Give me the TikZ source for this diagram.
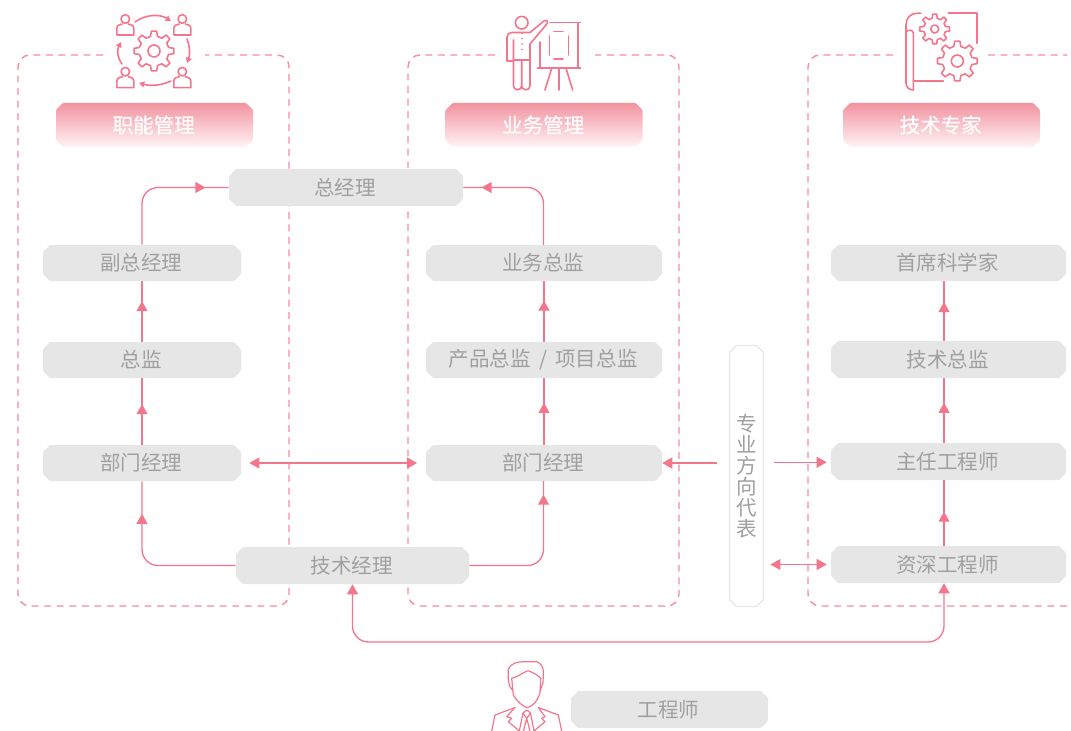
\documentclass[tikz,border=0pt]{standalone}
\usepackage{fontspec}
\setmainfont{Noto Sans CJK SC}
\usetikzlibrary{arrows.meta,decorations.markings,calc}
\definecolor{pinkline}{HTML}{F4768C}
\definecolor{pinkdash}{HTML}{F78CA0}
\definecolor{pinktop}{HTML}{F2939F}
\definecolor{pinkbot}{HTML}{FFF4F6}
\definecolor{boxgray}{HTML}{E6E6E6}
\definecolor{txtgray}{HTML}{A0A0A0}
\tikzset{
 textbase/.style={rectangle,inner sep=0pt,font=\fontsize{15.4}{18}\selectfont},
 grayshape/.style={fill=boxgray,rounded corners=0.7pt},
 graytext/.style={textbase,text=txtgray},
 headshape/.style={top color=pinktop,bottom color=pinkbot,rounded corners=0.7pt},
 headtext/.style={textbase,text=white,font=\fontsize{15.4}{18}\selectfont\addfontfeature{FakeBold=0.4}},
 repshape/.style={fill=white,draw=boxgray,line width=0.9pt,rounded corners=0.7pt},
 reptext/.style={textbase,text=txtgray,align=center,font=\fontsize{15.4}{15.8}\selectfont},
 frameline/.style={draw=pinkdash,line width=1.05pt,dash pattern=on 5.2pt off 4.2pt,rounded corners=9pt},
 conn/.style={draw=pinkline,line width=1pt,rounded corners=12pt},
 straightconn/.style={draw=pinkline,line width=1pt},
 tipped/.style={-{Triangle[length=7.5pt,width=8.2pt]}},
 bothtipped/.style={{Triangle[length=7.5pt,width=8.2pt]}-{Triangle[length=7.5pt,width=8.2pt]}},
 midtip/.style={postaction={decorate},decoration={markings,mark=at position #1 with {\arrow{Triangle[length=7.5pt,width=8.2pt]}}}},
 iconline/.style={draw=pinkline,line width=1.2pt,line cap=round,line join=round},
 iconthin/.style={draw=pinkline,line width=0.9pt,line cap=round,line join=round},
 smalltip/.style={-{Triangle[length=4pt,width=4.5pt]}},
}
% kind, name, cx, cy, w, h, text
\newcommand{\chamshape}[5]{%
 \path[#1shape] (#2-#4/2+7,#3-#5/2) -- (#2+#4/2-7,#3-#5/2) -- (#2+#4/2,#3-#5/2+7) -- (#2+#4/2,#3+#5/2-7) -- (#2+#4/2-7,#3+#5/2) -- (#2-#4/2+7,#3+#5/2) -- (#2-#4/2,#3+#5/2-7) -- (#2-#4/2,#3-#5/2+7) -- cycle;}
\newcommand{\chambox}[7]{%
 \chamshape{#1}{#3}{#4}{#5}{#6}%
 \node[#1text,minimum width=#5*0.75pt,minimum height=#6*0.75pt] (#2) at (#3,#4) {\raisebox{-0.7pt}{#7\hspace{1.2pt}}};}
\newcommand{\gearicon}[5]{%
 \pgfmathsetmacro{\gst}{360/#5}%
 \draw[iconline] ([shift={(#1,#2)}]{-0.30*\gst}:#4)
  \foreach \gi in {1,...,#5}{
   -- ([shift={(#1,#2)}]{\gi*\gst-1.30*\gst}:#4)
   -- ([shift={(#1,#2)}]{\gi*\gst-1.17*\gst}:#3)
   -- ([shift={(#1,#2)}]{\gi*\gst-0.83*\gst}:#3)
   -- ([shift={(#1,#2)}]{\gi*\gst-0.70*\gst}:#4)
  } -- cycle;}
\newcommand{\personicon}[2]{%
 \draw[iconline] (#1,#2) circle (4.3);
 \draw[iconline] (#1-3,#2+5) .. controls (#1-5,#2+5.5) and (#1-8.5,#2+6) .. (#1-8.5,#2+9.5) -- (#1-8.5,#2+16) -- (#1+8.5,#2+16) -- (#1+8.5,#2+9.5) .. controls (#1+8.5,#2+6) and (#1+5,#2+5.5) .. (#1+3,#2+5);}
\begin{document}
\begin{tikzpicture}[x=0.75pt,y=-0.75pt]
\useasboundingbox (0,0) rectangle (1071,731);
% frames
\draw[frameline] (103,55) -- (18,55) -- (18,606) -- (289,606) -- (289,55) -- (205,55);
\draw[frameline] (495,55) -- (408,55) -- (408,606) -- (679,606) -- (679,55) -- (595,55);
\draw[frameline] (893,55) -- (808,55) -- (808,606) -- (1067,606);
\draw[frameline,sharp corners] (988,55) -- (1066.6,55) -- (1067,55.15);
\coordinate (col3) at (944,0);
% headers
\chambox{head}{h1}{154.5}{125}{197}{44}{职能管理}
\chambox{head}{h2}{544}{125}{197}{44}{业务管理}
\chambox{head}{h3}{941.5}{125}{197}{44}{技术专家}
% boxes
\chambox{gray}{gm}{346}{187.5}{234}{37}{总经理}
\chambox{gray}{f1}{142}{263}{198}{36}{副总经理}
\chambox{gray}{f2}{142}{360}{198}{36}{总监}
\chambox{gray}{f3}{142}{463}{198}{36}{部门经理}
\chambox{gray}{tm}{352.5}{565.5}{233}{37}{技术经理}
\chambox{gray}{b1}{544}{263}{236}{36}{业务总监}
\chambox{gray}{b2}{544}{360}{236}{36}{产品总监\hspace{0.4em}/\hspace{0.4em}项目总监}
\chambox{gray}{b3}{544}{463}{236}{36}{部门经理}
\chambox{gray}{t1}{948.5}{263}{235}{36}{首席科学家}
\chambox{gray}{t2}{948.5}{359.5}{235}{37}{技术总监}
\chambox{gray}{t3}{948.5}{461.5}{235}{37}{主任工程师}
\chambox{gray}{t4}{948.5}{564.5}{235}{37}{资深工程师}
\chambox{gray}{eng}{669.5}{709.5}{197}{37}{工程师}
\chamshape{rep}{746.5}{476}{34}{261}
\node[reptext,minimum width=34*0.75pt,minimum height=261*0.75pt] (rep) at (746.5,476) {专\\业\\方\\向\\代\\表};
% connectors, first column
\draw[conn,midtip=0.61] (f3.north) -- (f2.south);
\draw[conn,midtip=0.67] (f2.north) -- (f1.south);
\draw[conn,midtip=0.81] (tm.west) -- (142,565.5) -- (f3.south);
\draw[conn,midtip=0.83] (f1.north) -- (142,187.5) -- (gm.west);
% second column
\draw[conn,midtip=0.63] (b3.north) -- (b2.south);
\draw[conn,midtip=0.68] (b2.north) -- (b1.south);
\draw[conn,midtip=0.91] (tm.east) -- (543.5,565.5) -- (543.5,481);
\draw[conn,midtip=0.86] (543.5,245) -- (543.5,187.5) -- (gm.east);
% third column
\draw[conn,midtip=0.52] (t4.north -| col3) -- (t3.south -| col3);
\draw[conn,midtip=0.62] (t3.north -| col3) -- (t2.south -| col3);
\draw[conn,midtip=0.65] (t2.north -| col3) -- (t1.south -| col3);
% cross links
\draw[straightconn,bothtipped,shorten <=6pt,shorten >=6.5pt] (f3.east) -- (b3.west);
\draw[straightconn,tipped,shorten <=9.5pt] (rep.west |- b3.east) -- (b3.east);
\draw[straightconn,tipped,shorten <=7.5pt,shorten >=3pt] ([yshift=-0.6pt]rep.east |- t3.west) -- ([yshift=-0.6pt]t3.west);
\draw[straightconn,bothtipped,shorten <=5pt,shorten >=3pt] (rep.east |- t4.west) -- (t4.west);
\draw[conn,bothtipped] (t4.south -| col3) -- (944,642) -- (352.5,642) -- (tm.south);
% icon 1
\gearicon{154}{51}{20}{15}{8}
\draw[iconline] (154,51) circle (6);
\personicon{125.3}{19}
\personicon{182.3}{19}
\personicon{125.3}{71.7}
\personicon{182.3}{71.7}
\draw[iconline,smalltip] (135,22) .. controls (146,14) and (160,14) .. (171,21);
\draw[iconline,smalltip] (187,39) .. controls (190,46) and (190,55) .. (187,63);
\draw[iconline,smalltip] (171,81) .. controls (160,86) and (150,86) .. (139,83);
\draw[iconline,smalltip] (122,64) .. controls (117,57) and (117,50) .. (121,42);
% icon 2
\draw[iconline] (521.7,22.7) circle (6.3);
\draw[iconline] (513.5,61) -- (507,61) -- (507,37) .. controls (507,34) and (509,32.5) .. (512,32.5) -- (530,32.5) -- (544,21) .. controls (547,19) and (549,22) .. (546,25) -- (530,44) -- (530,60)
  (513.5,40) -- (513.5,86) .. controls (513.5,91) and (521.5,91) .. (521.7,86) -- (521.7,60)
  (521.7,86) .. controls (522,91) and (530,91) .. (530,86) -- (530,60) (513.5,60) -- (530,60);
\draw[iconline,dash pattern=on 0.1pt off 4pt] (521.7,33) -- (521.7,54);
\draw[iconline] (550,22.7) -- (580.5,22.7) (578,22.7) -- (578,68.3) (537.5,68.3) -- (580.5,68.3) (540,68.3) -- (540,42);
\draw[iconline] (554,31.7) -- (563,31.7) (568.3,36) -- (568.3,55) (554,59.3) -- (563,59.3) (549.3,36) -- (549.3,55);
\draw[iconline] (551.7,68.3) -- (545,90) (559,68.3) -- (559,90) (566,68.3) -- (572.7,90);
% icon 3
\draw[iconline] (948.3,13.3) -- (976.7,13.3) -- (976.7,43.3);
\draw[iconline] (920.7,13.3) -- (918,13.3) .. controls (910,13.3) and (906,18) .. (906,25) -- (906,83) .. controls (906,87) and (909,90) .. (913.3,90) -- (913.3,33) .. controls (913.3,30) and (908,29) .. (906,32);
\draw[iconline] (913.3,81) -- (943.3,81);
\gearicon{934.7}{29}{15}{11}{8}
\draw[iconline] (934.7,29) circle (4);
\gearicon{957.3}{61}{20}{15}{8}
\draw[iconline] (957.3,61) circle (6);
% icon 4
\draw[iconthin] (512.7,690.7) .. controls (508,685) and (508,680) .. (508.3,670) .. controls (510,663) and (518,661.7) .. (524,661.7) -- (537,661.7) .. controls (542,664) and (544,668) .. (543.3,675) -- (543,683) -- (540,691);
\draw[iconthin] (511.7,678.3) .. controls (518,677) and (520,674) .. (528,670.7) .. controls (532,672) and (538,675) .. (540.7,678.3);
\draw[iconthin] (511.7,678.3) -- (513.3,695) .. controls (518,703) and (525,707.5) .. (527,707.5) .. controls (530,707.5) and (537,703) .. (540,693) -- (540.7,678.3);
\draw[iconthin] (491.7,731) -- (495,715) -- (515,707.5) (538.3,707.5) -- (558.3,715) -- (561.7,731);
\draw[iconthin] (515,707.5) -- (506.7,716.7) -- (511.7,718.3) -- (508.3,721.7) -- (519.3,731) -- (523,713) -- (527,710) -- (530.5,713) -- (534,731) -- (545,721.7) -- (541.7,718.3) -- (545,716.7) -- (538.3,707.5);
\draw[iconthin] (523,713) -- (526.7,718.3) -- (530.5,713) (526.7,718.3) -- (523.5,731) (526.7,718.3) -- (530,731);
\end{tikzpicture}
\end{document}
